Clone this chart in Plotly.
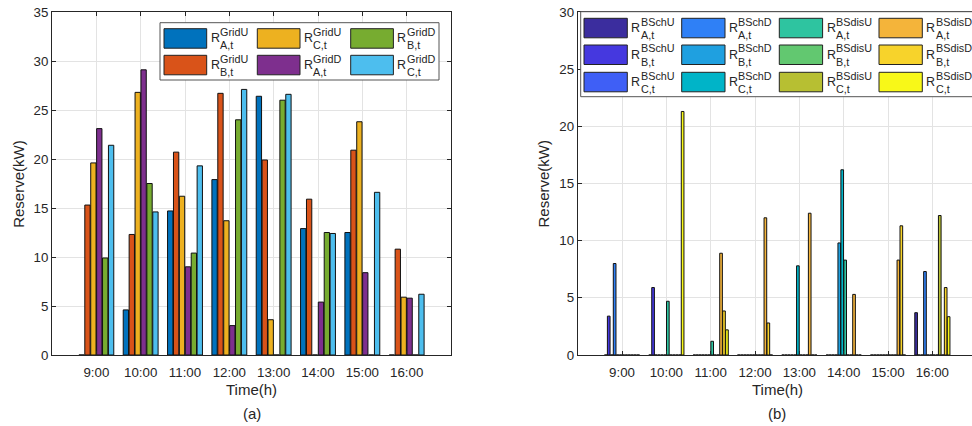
import plotly.graph_objects as go

W, H = 972, 426

hours = ["9:00", "10:00", "11:00", "12:00", "13:00", "14:00", "15:00", "16:00"]
yticks_a = [0, 5, 10, 15, 20, 25, 30, 35]
yticks_b = [0, 5, 10, 15, 20, 25, 30]

# ---- panel (a) data ----
grid_sup = ["GridU", "GridU", "GridU", "GridD", "GridD", "GridD"]
grid_sub = ["A,t", "B,t", "C,t", "A,t", "B,t", "C,t"]
grid_colors = ["#0072BD", "#D95319", "#EDB120", "#7E2F8E", "#77AC30", "#4DBEEE"]
GridU_A = [0, 4.6, 14.7, 17.9, 26.4, 12.9, 12.5, 0]
GridU_B = [15.3, 12.3, 20.7, 26.7, 19.9, 15.9, 20.9, 10.8]
GridU_C = [19.6, 26.8, 16.2, 13.7, 3.6, 0, 23.8, 5.9]
GridD_A = [23.1, 29.1, 9.0, 3.0, 0, 5.4, 8.4, 5.8]
GridD_B = [9.9, 17.5, 10.4, 24.0, 26.0, 12.5, 0, 0]
GridD_C = [21.4, 14.6, 19.3, 27.1, 26.6, 12.4, 16.6, 6.2]
grid_series = [GridU_A, GridU_B, GridU_C, GridD_A, GridD_B, GridD_C]

# ---- panel (b) data ----
bs_sup = ["BSchU"] * 3 + ["BSchD"] * 3 + ["BSdisU"] * 3 + ["BSdisD"] * 3
bs_sub = ["A,t", "B,t", "C,t"] * 4
bs_colors = ["#3B2D9E", "#4538DF", "#3F5FF6", "#2F80F6", "#1FA0E0", "#00B4C8",
             "#2EC4A0", "#62C870", "#B7BF32", "#F4B43A", "#F7D32B", "#F8F818"]
BSchU_A = [0, 0, 0, 0, 0, 0, 0, 3.7]
BSchU_B = [3.4, 5.9, 0, 0, 0, 0, 0, 0]
BSchU_C = [0, 0, 0, 0, 0, 0, 0, 0]
BSchD_A = [8.0, 0, 0, 0, 0, 0, 0, 7.3]
BSchD_B = [0, 0, 0, 0, 0, 9.8, 0, 0]
BSchD_C = [0, 0, 0, 0, 7.8, 16.2, 0, 0]
BSdisU_A = [0, 4.7, 1.2, 0, 0, 8.3, 0, 0]
BSdisU_B = [0, 0, 0, 0, 0, 0, 0, 0]
BSdisU_C = [0, 0, 0, 0, 0, 0, 0, 12.2]
BSdisD_A = [0, 0, 8.9, 12.0, 12.4, 5.3, 8.3, 0]
BSdisD_B = [0, 0, 3.85, 2.8, 0, 0, 11.3, 5.9]
BSdisD_C = [0, 21.3, 2.2, 0, 0, 0, 0, 3.35]
bs_series = [BSchU_A, BSchU_B, BSchU_C, BSchD_A, BSchD_B, BSchD_C,
             BSdisU_A, BSdisU_B, BSdisU_C, BSdisD_A, BSdisD_B, BSdisD_C]

xpos = list(range(1, len(hours) + 1))

FONT = "Liberation Sans, Arial, sans-serif"
AXC = "#262626"
GRIDC = "#e3e3e3"

fig = go.Figure()
for vals, col in zip(grid_series, grid_colors):
    fig.add_trace(go.Bar(x=xpos, y=vals, marker=dict(color=col, line=dict(color="#111111", width=1)),
                         xaxis="x", yaxis="y", showlegend=False))
for vals, col in zip(bs_series, bs_colors):
    fig.add_trace(go.Bar(x=xpos, y=vals, marker=dict(color=col, line=dict(color="#111111", width=1)),
                         xaxis="x2", yaxis="y2", showlegend=False))


def px(x):
    return x / W


def py(y):
    return 1 - y / H


ax_l0, ax_l1 = 52, 451
ax_r0 = 577.7
unit = (ax_l1 - ax_l0) / 9.0
ax_r_range = (W - ax_r0) / unit
y_top, y_bot = 12, 355

common_x = dict(tickvals=xpos, ticktext=hours, ticks="inside", ticklen=4, tickcolor=AXC,
                showline=True, linecolor=AXC, linewidth=1, showgrid=True, gridcolor=GRIDC,
                zeroline=False, ticklabelstandoff=5, automargin=False,
                tickfont=dict(family=FONT, size=13.3, color="#262626"))
common_y = dict(ticks="inside", ticklen=4, tickcolor=AXC, showline=True, linecolor=AXC,
                linewidth=1, showgrid=True, gridcolor=GRIDC, zeroline=False, automargin=False,
                tickfont=dict(family=FONT, size=13.3, color="#262626"))

fig.update_layout(
    width=W, height=H, margin=dict(l=0, r=0, t=0, b=0, autoexpand=False),
    paper_bgcolor="white", plot_bgcolor="white",
    barmode="group", bargap=0.2, bargroupgap=0.1,
    showlegend=False,
    xaxis=dict(domain=[px(ax_l0), px(ax_l1)], range=[0, 9], mirror="ticks", anchor="y", **common_x),
    yaxis=dict(domain=[py(y_bot), py(y_top)], range=[0, 35], tickvals=yticks_a, mirror="ticks",
               anchor="x", **common_y),
    xaxis2=dict(domain=[px(ax_r0), 1.0], range=[0, ax_r_range], mirror="ticks", anchor="y2", **common_x),
    yaxis2=dict(domain=[py(y_bot), py(y_top)], range=[0, 30], tickvals=yticks_b, mirror=False,
                anchor="x2", **common_y),
)

ann = []
TF = dict(family=FONT, size=15, color="#262626")
cx_a = (ax_l0 + ax_l1) / 2
cx_b = (ax_r0 + ax_r0 + 9 * unit) / 2
for cx in [cx_a, cx_b]:
    ann.append(dict(x=px(cx), y=py(389), xref="paper", yref="paper", text="Time(h)",
                    showarrow=False, font=TF, xanchor="center", yanchor="middle"))
ann.append(dict(x=px(cx_a), y=py(413), xref="paper", yref="paper", text="(a)",
                showarrow=False, font=TF, xanchor="center", yanchor="middle"))
ann.append(dict(x=px(cx_b), y=py(413), xref="paper", yref="paper", text="(b)",
                showarrow=False, font=TF, xanchor="center", yanchor="middle"))
for cx in [18.3, 543]:
    ann.append(dict(x=px(cx), y=py((y_top + y_bot) / 2), xref="paper", yref="paper", text="Reserve(kW)",
                    textangle=-90, showarrow=False, font=TF, xanchor="center", yanchor="middle"))

shapes = []


def legend_entry(x0, y0, w, h, color, sup, sub):
    shapes.append(dict(type="rect", xref="paper", yref="paper", x0=px(x0), x1=px(x0 + w),
                       y0=py(y0 + h), y1=py(y0), fillcolor=color, line=dict(color="#222222", width=1)))
    rx = x0 + w + 3
    cy = y0 + h / 2
    ann.append(dict(x=px(rx), y=py(cy), xref="paper", yref="paper", text="R", showarrow=False,
                    borderpad=0, font=dict(family=FONT, size=12.5, color="#262626"),
                    xanchor="left", yanchor="middle"))
    ann.append(dict(x=px(rx + 9.3), y=py(cy - 6.5), xref="paper", yref="paper", text=sup, showarrow=False,
                    borderpad=0, font=dict(family=FONT, size=10.8, color="#262626"),
                    xanchor="left", yanchor="middle"))
    ann.append(dict(x=px(rx + 9.3), y=py(cy + 6.8), xref="paper", yref="paper", text=sub, showarrow=False,
                    borderpad=0, font=dict(family=FONT, size=10.8, color="#262626"),
                    xanchor="left", yanchor="middle"))


# legend (a): 3 columns x 2 rows, filled column-wise
shapes.append(dict(type="rect", xref="paper", yref="paper", x0=px(160), x1=px(439), y0=py(80), y1=py(22.7),
                   fillcolor="white", line=dict(color="#555555", width=1)))
cols_a = [164, 257.3, 350.7]
rows_a = [28.7, 55.3]
for i, (col, sup, sub) in enumerate(zip(grid_colors, grid_sup, grid_sub)):
    legend_entry(cols_a[i // 2], rows_a[i % 2], 42.7, 19.5, col, sup, sub)

# legend (b): 4 columns x 3 rows, filled column-wise
shapes.append(dict(type="rect", xref="paper", yref="paper", x0=px(580.7), x1=px(W + 5), y0=py(96.7), y1=py(11.7),
                   fillcolor="white", line=dict(color="#555555", width=1)))
cols_b = [584, 681.7, 779.3, 879]
rows_b = [18.3, 45, 72.3]
for i, (col, sup, sub) in enumerate(zip(bs_colors, bs_sup, bs_sub)):
    legend_entry(cols_b[i // 3], rows_b[i % 3], 43.3, 19.5, col, sup, sub)

fig.update_layout(annotations=ann, shapes=shapes)
fig.write_html("out.html")
